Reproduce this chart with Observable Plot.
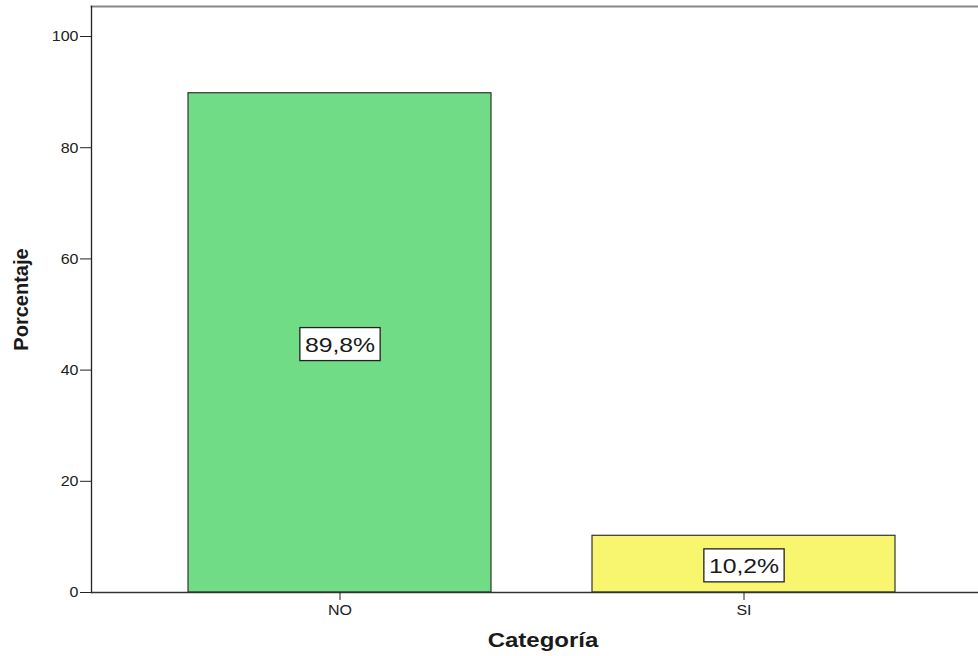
<!DOCTYPE html>
<html>
<head>
<meta charset="utf-8">
<script src="https://cdn.jsdelivr.net/npm/d3@7"></script>
<script src="https://cdn.jsdelivr.net/npm/@observablehq/plot@0.6"></script>
<style>
  html, body { margin: 0; padding: 0; background: #fff; }
  svg { font-family: "Liberation Sans", Arial, sans-serif; }
</style>
</head>
<body>
<div id="chart"></div>
<script>
// Respuesta por categoría (porcentaje)
const categorias = ["NO", "SI"];
const porcentajes = [89.8, 10.2];
const etiquetas = ["89,8%", "10,2%"];
const colores = ["#70dd86", "#f8f56e"];
const ticksY = [0, 20, 40, 60, 80, 100];

const datos = categorias.map((c, i) => ({
  categoria: c,
  valor: porcentajes[i],
  etiqueta: etiquetas[i],
  color: colores[i]
}));

const W = 978, H = 656;
const mL = 91, mT = 6, mB = 64, mR = 0;

const chart = Plot.plot({
  width: W,
  height: H,
  marginLeft: mL,
  marginTop: mT,
  marginBottom: mB,
  marginRight: mR,
  style: {fontFamily: "Liberation Sans, Arial, sans-serif", background: "#fff", overflow: "visible"},
  x: {domain: categorias, range: [mL, 991], paddingInner: 0.25, paddingOuter: 0.237, label: null},
  y: {domain: [0, 105.4], label: null},
  marks: [
    Plot.barY(datos, {
      x: "categoria", y: "valor",
      fill: d => d.color, stroke: "#333", strokeWidth: 1.2
    }),
    Plot.text(datos, {
      x: "categoria", y: d => d.valor / 2, text: "etiqueta", dy: 2,
      fontSize: 21, fill: "#1a1a1a", className: "valor-etiqueta"
    }),
    // marco: línea superior gris, eje izquierdo y base
    Plot.frame({anchor: "top", stroke: "#888", strokeWidth: 2}),
    Plot.frame({anchor: "left", stroke: "#222", strokeWidth: 1.3}),
    Plot.ruleY([0], {stroke: "#333", strokeWidth: 1.3}),
    Plot.axisY({ticks: ticksY, tickSize: 11, tickPadding: 2, fontSize: 15, color: "#222", label: null, className: "eje"}),
    Plot.axisX({tickSize: 8, tickPadding: 4, fontSize: 15, color: "#222", label: null, className: "eje"}),
    Plot.text(["Porcentaje"], {
      frameAnchor: "left", rotate: -90, dx: -70, textAnchor: "middle",
      fontSize: 20, fontWeight: "bold", fill: "#1a1a1a"
    }),
    Plot.text(["Categoría"], {
      frameAnchor: "bottom", dy: 54, dx: 8,
      fontSize: 20, fontWeight: "bold", fill: "#1a1a1a", className: "titulo-x"
    })
  ]
});

document.getElementById("chart").append(chart);

// Texto ligeramente ensanchado en horizontal
function ensanchar(sel, k) {
  d3.select(chart).selectAll(sel).each(function () {
    const t = this.getAttribute("transform") || "";
    this.setAttribute("transform", `${t} scale(${k},1)`.trim());
  });
}
ensanchar("g.eje text", 1.07);
ensanchar("g.titulo-x text", 1.2);

// Etiquetas de valor: texto ensanchado dentro de un recuadro blanco con borde
const kEtiqueta = 1.18;
d3.select(chart).selectAll("g.valor-etiqueta text").each(function () {
  const b = this.getBBox();
  const t = this.getAttribute("transform") || "";
  d3.select(this.parentNode).insert("rect", () => this)
    .attr("transform", t || null)
    .attr("x", b.x * kEtiqueta - 5).attr("y", b.y - 5)
    .attr("width", b.width * kEtiqueta + 10).attr("height", b.height + 10)
    .attr("fill", "#fff").attr("stroke", "#222").attr("stroke-width", 1.3);
  this.setAttribute("transform", `${t} scale(${kEtiqueta},1)`.trim());
});
</script>
</body>
</html>
